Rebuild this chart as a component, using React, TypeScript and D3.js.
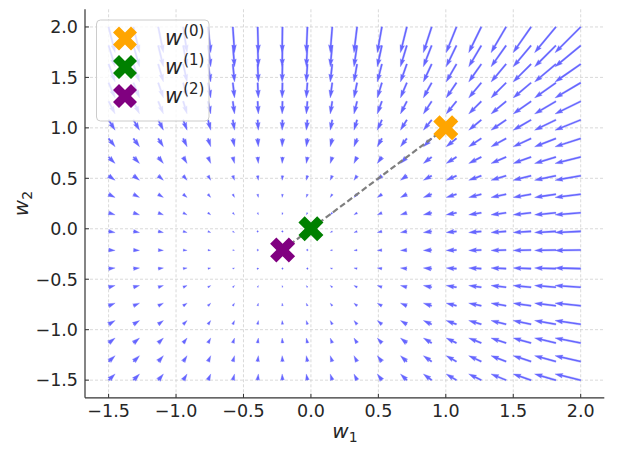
import React from "react";
import * as d3 from "d3";

// grid of the vector field (20 x 20)
const gridW1 = [-1.5, -1.316, -1.132, -0.947, -0.763, -0.579, -0.395, -0.211, -0.026, 0.158, 0.342, 0.526, 0.711, 0.895, 1.079, 1.263, 1.447, 1.632, 1.816, 2.0];
const gridW2 = [-1.5, -1.316, -1.132, -0.947, -0.763, -0.579, -0.395, -0.211, -0.026, 0.158, 0.342, 0.526, 0.711, 0.895, 1.079, 1.263, 1.447, 1.632, 1.816, 2.0];
// negative gradient component along w1 (per column) and along w2 (per row)
const flowW1 = [1.63, 1.53, 1.3, 0.98, 0.68, 0.43, 0.18, -0.08, -0.28, -0.5, -0.78, -1.15, -1.6, -2.08, -2.58, -3.15, -3.78, -4.48, -5.33, -6.43];
const flowW2 = [1.55, 1.48, 1.25, 0.95, 0.66, 0.42, 0.17, -0.08, -0.28, -0.5, -0.78, -1.15, -1.6, -2.08, -2.58, -3.15, -3.78, -4.48, -5.33, -6.43];
// gradient descent iterates
const iterW1 = [1.0, 0.0, -0.21];
const iterW2 = [1.0, 0.0, -0.21];
const iterNames = ["(0)", "(1)", "(2)"];
const iterColors = ["#ffa500", "#008000", "#800080"];
const xTicks = [-1.5, -1.0, -0.5, 0.0, 0.5, 1.0, 1.5, 2.0];
const yTicks = [-1.5, -1.0, -0.5, 0.0, 0.5, 1.0, 1.5, 2.0];

const FONT = "'DejaVu Sans', sans-serif";
const fmt = (v: number) => (v < 0 ? "\u2212" : "") + Math.abs(v).toFixed(1);

function arrowPath(tx: number, ty: number, u: number, v: number, w: number) {
  const L = Math.hypot(u, v) / w;
  let X: number[];
  let Y: number[];
  if (L < 1) {
    X = [];
    Y = [];
    for (let i = 0; i < 8; i++) {
      const th = (i * Math.PI) / 3;
      X.push(Math.cos(th) * 0.5);
      Y.push(Math.sin(th) * 0.5);
    }
  } else if (L < 5) {
    const s = L / 5;
    X = [0, 0.5, 0, 5, 0, 0.5, 0, 0].map((d) => d * s);
    Y = [0.5, 0.5, 1.5, 0, -1.5, -0.5, -0.5, 0.5].map((d) => d * s);
  } else {
    X = [0, L - 4.5, L - 5, L, L - 5, L - 4.5, 0, 0];
    Y = [0.5, 0.5, 1.5, 0, -1.5, -0.5, -0.5, 0.5];
  }
  const a = Math.atan2(-v, u);
  const c = Math.cos(a);
  const s = Math.sin(a);
  const pts: [number, number][] = X.map((xx, i) => [tx + (xx * c - Y[i] * s) * w, ty + (xx * s + Y[i] * c) * w]);
  return (d3.line()(pts) || "") + "Z";
}

const xMarkerPts = [
  [-1, -2], [0, -1], [1, -2], [2, -1], [1, 0], [2, 1],
  [1, 2], [0, 1], [-1, 2], [-2, 1], [-1, 0], [-2, -1],
];
function xMarker(cx: number, cy: number, size: number) {
  const pts: [number, number][] = xMarkerPts.map(([a, b]) => [cx + (a / 4) * size, cy + (b / 4) * size]);
  return (d3.line()(pts) || "") + "Z";
}

export default function App() {
  const left = 85, right = 604.3, top = 9.3, bottom = 397.8;
  const x = d3.scaleLinear().domain([-1.675, 2.175]).range([left, right]);
  const y = d3.scaleLinear().domain([-1.675, 2.175]).range([bottom, top]);
  const len = d3.scaleLinear().domain([0, 1]).range([0, 4]);
  const shaftW = 0.003 * (right - left);

  const arrows: JSX.Element[] = [];
  gridW2.forEach((wy, j) => {
    gridW1.forEach((wx, i) => {
      const u = len(flowW1[i]);
      const v = len(flowW2[j]);
      arrows.push(
        <path key={`a${i}-${j}`} d={arrowPath(x(wx), y(wy), u, v, shaftW)} fill="rgb(102,102,255)" stroke="rgb(102,102,255)" strokeWidth={0.3} />
      );
    });
  });

  const pathLine = d3
    .line<number>()
    .x((_, i) => x(iterW1[i]))
    .y((_, i) => y(iterW2[i]))(iterW1.map((d) => d));

  const legendRows = [38.5, 67, 96];

  return (
    <svg width={618} height={451} style={{ position: "absolute", left: 0, top: 0, background: "#fff" }} fontFamily={FONT}>
      {/* grid */}
      <g stroke="#cfcfcf" strokeWidth={0.8} strokeDasharray="3,2">
        {xTicks.map((t) => (
          <line key={`gx${t}`} x1={x(t)} x2={x(t)} y1={top} y2={bottom} />
        ))}
        {yTicks.map((t) => (
          <line key={`gy${t}`} x1={left} x2={right} y1={y(t)} y2={y(t)} />
        ))}
      </g>
      <g>{arrows}</g>
      <path d={pathLine || ""} fill="none" stroke="#7f7f7f" strokeWidth={2.2} strokeDasharray="6,3" />
      {iterW1.map((d, i) => (
        <path key={`m${i}`} d={xMarker(x(d), y(iterW2[i]), 25)} fill={iterColors[i]} />
      ))}
      {/* spines */}
      <line x1={left} x2={left} y1={top} y2={bottom} stroke="#333" strokeWidth={1.2} />
      <line x1={left} x2={right} y1={bottom} y2={bottom} stroke="#333" strokeWidth={1.2} />
      {/* ticks */}
      {xTicks.map((t) => (
        <g key={`tx${t}`}>
          <line x1={x(t)} x2={x(t)} y1={bottom} y2={bottom - 4} stroke="#333" strokeWidth={1} />
          <text x={x(t)} y={416.5} textAnchor="middle" fontSize={17.5} fill="#262626">
            {fmt(t)}
          </text>
        </g>
      ))}
      {yTicks.map((t) => (
        <g key={`ty${t}`}>
          <line x1={left} x2={left + 4} y1={y(t)} y2={y(t)} stroke="#333" strokeWidth={1} />
          <text x={78} y={y(t) + 6.3} textAnchor="end" fontSize={17.5} fill="#262626">
            {fmt(t)}
          </text>
        </g>
      ))}
      {/* axis labels */}
      <text x={345} y={438} textAnchor="middle" fontSize={20} fill="#262626">
        <tspan fontStyle="italic">w</tspan>
        <tspan fontSize={14} dy={4}>1</tspan>
      </text>
      <text transform={`translate(28,${(top + bottom) / 2}) rotate(-90)`} textAnchor="middle" fontSize={20} fill="#262626">
        <tspan fontStyle="italic">w</tspan>
        <tspan fontSize={14} dy={4}>2</tspan>
      </text>
      {/* legend */}
      <rect x={96.5} y={20} width={112.5} height={101} rx={4} fill="#fff" fillOpacity={0.8} stroke="#cccccc" strokeWidth={1} />
      {legendRows.map((ry, i) => (
        <g key={`l${i}`}>
          <path d={xMarker(125, ry, 24)} fill={iterColors[i]} />
          <text x={165} y={ry + 6.5} fontSize={21} fill="#262626">
            <tspan fontStyle="italic">w</tspan>
            <tspan fontSize={15} dy={-9} dx={1}>{iterNames[i]}</tspan>
          </text>
        </g>
      ))}
    </svg>
  );
}
